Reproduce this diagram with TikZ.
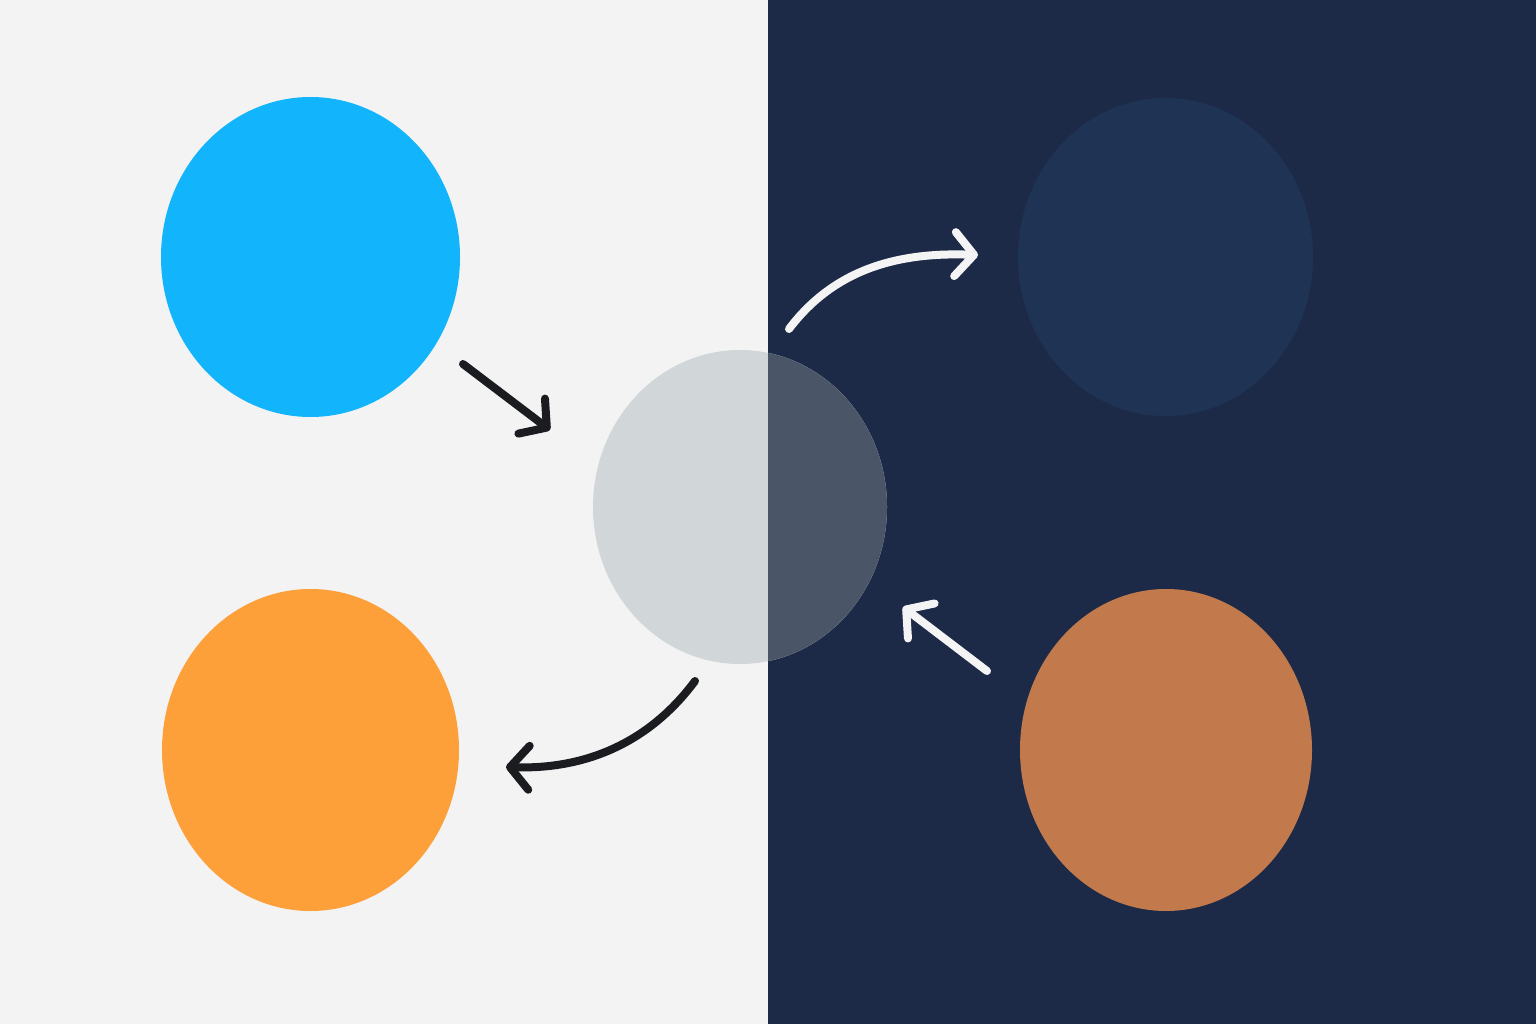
\documentclass[tikz,border=0pt]{standalone}
\usetikzlibrary{shapes.geometric,arrows.meta}
\definecolor{bgl}{HTML}{F3F3F3}
\definecolor{bgd}{HTML}{1C2A47}
\definecolor{cblue}{HTML}{12B4FB}
\definecolor{corange}{HTML}{FDA03A}
\definecolor{cleft}{HTML}{D1D6D8}
\definecolor{cright}{HTML}{4A5567}
\definecolor{cdark}{HTML}{1F3455}
\definecolor{cbrown}{HTML}{C27A4D}
\definecolor{ink}{HTML}{1B1C20}
\definecolor{chalk}{HTML}{F4F4F4}
\tikzset{
  blob/.style={ellipse, inner sep=0pt, draw=none},
  arr/.style={line width=8pt, line cap=round, line join=round,
    -{Straight Barb[length=19pt, width=44pt, line width=8pt, round]}},
}
\begin{document}
\begin{tikzpicture}[x=1pt,y=-1pt]
\useasboundingbox (0,0) rectangle (1536,1024);
\fill[bgl] (0,0) rectangle (768,1024);
\fill[bgd] (768,0) rectangle (1536,1024);
\node[blob, fill=cblue, minimum width=299pt, minimum height=320pt] (blue) at (310.5,257) {};
\node[blob, fill=corange, minimum width=297pt, minimum height=322pt] (orange) at (310.5,750) {};
\node[blob, fill=cdark, minimum width=295pt, minimum height=318pt] (dark) at (1165.5,257) {};
\node[blob, fill=cbrown, minimum width=292pt, minimum height=322pt] (brown) at (1166,750) {};
\node[blob, fill=cleft, minimum width=294pt, minimum height=314pt] (mid) at (740,507) {};
\begin{scope}
\clip (768,0) rectangle (1536,1024);
\fill[cright] (mid.center) ellipse [x radius=147pt, y radius=157pt];
\end{scope}
\coordinate (a1s) at (463,364);
\coordinate (a1e) at (550,430);
\coordinate (a2s) at (695,681);
\coordinate (a2e) at (506,767);
\coordinate (a3s) at (789,329);
\coordinate (a3e) at (978,255);
\coordinate (a4s) at (987,671);
\coordinate (a4e) at (903,607);
\draw[arr, ink] (a1s) -- (a1e);
\draw[arr, ink] (a2s) .. controls (655,735) and (595,770) .. (a2e);
\draw[arr, chalk] (a3s) .. controls (835,268) and (900,252) .. (a3e);
\draw[arr, chalk] (a4s) -- (a4e);
\end{tikzpicture}
\end{document}
